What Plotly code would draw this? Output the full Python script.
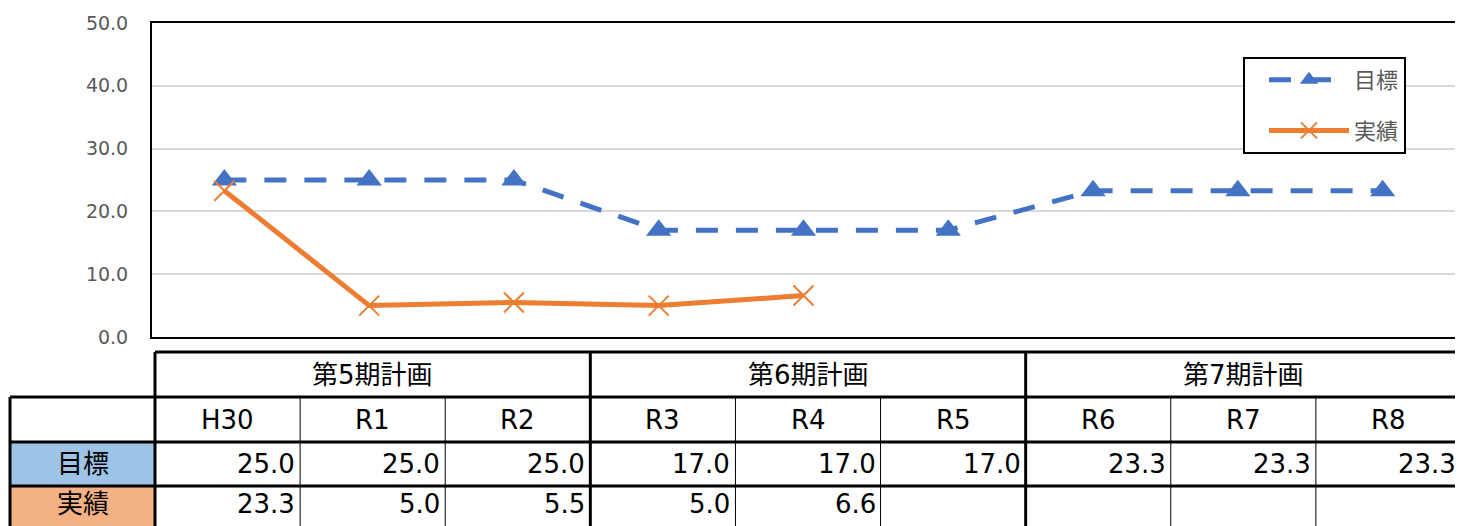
import plotly.graph_objects as go

# ---------------- data ----------------
years = ["H30", "R1", "R2", "R3", "R4", "R5", "R6", "R7", "R8"]
periods = ["第5期計画", "第6期計画", "第7期計画"]
period_span = [3, 3, 3]
target = [25.0, 25.0, 25.0, 17.0, 17.0, 17.0, 23.3, 23.3, 23.3]
actual = [23.3, 5.0, 5.5, 5.0, 6.6, None, None, None, None]
series_names = ["目標", "実績"]
y_ticks = [0, 10, 20, 30, 40, 50]

# ---------------- layout constants ----------------
PAGE_W, PAGE_H = 1463, 526
OFF = 8                       # default page (body) margin
FW, FH = PAGE_W - OFF, PAGE_H - OFF
FONT = "DejaVu Sans, Noto Sans CJK JP, sans-serif"
BLUE = "#4472C4"
ORANGE = "#ED7D31"


def px(x):
    """page pixel x -> figure paper fraction"""
    return (x - OFF) / FW


def py(y):
    """page pixel y -> figure paper fraction"""
    return 1 - (y - OFF) / FH


fig = go.Figure()

fig.add_trace(go.Scatter(
    x=years, y=target, name=series_names[0], mode="lines+markers",
    line=dict(color=BLUE, width=5, dash="22px,18px"),
    marker=dict(symbol="triangle-up", size=22, color=BLUE),
    legendgroup="a",
))
fig.add_trace(go.Scatter(
    x=years, y=actual, name=series_names[1], mode="lines+markers",
    line=dict(color=ORANGE, width=5),
    marker=dict(symbol="x-thin", size=20, color=ORANGE,
                line=dict(color=ORANGE, width=2)),
    legendgroup="b",
))

# ---------------- table (drawn on a hidden page-pixel axis pair) ----------------
t_left = 10
t_data_left = 155
t_right = 1461
col_w = (t_right - t_data_left) / len(years)
row_tops = [352, 397, 442, 486, 530]

shapes = []
annotations = []
THICK = 3
THIN = 1
REF = dict(xref="x2", yref="y2")

label_fills = ["#9DC3E6", "#F4B183"]
for i, c in enumerate(label_fills):
    shapes.append(dict(type="rect", **REF,
                       x0=t_left, x1=t_data_left,
                       y0=row_tops[2 + i], y1=row_tops[3 + i],
                       fillcolor=c, line=dict(width=0)))

shapes.append(dict(type="line", **REF, x0=t_data_left, x1=t_right,
                   y0=row_tops[0], y1=row_tops[0],
                   line=dict(color="black", width=THICK)))
for r in row_tops[1:4]:
    shapes.append(dict(type="line", **REF, x0=t_left, x1=t_right, y0=r, y1=r,
                       line=dict(color="black", width=THICK)))

shapes.append(dict(type="line", **REF, x0=t_left, x1=t_left,
                   y0=row_tops[1], y1=row_tops[4],
                   line=dict(color="black", width=THICK)))
edge = 0
bounds = [0]
for s in period_span:
    edge += s
    bounds.append(edge)
for k in range(len(years) + 1):
    xk = t_data_left + k * col_w
    if k in bounds:
        shapes.append(dict(type="line", **REF, x0=xk, x1=xk,
                           y0=row_tops[0], y1=row_tops[4],
                           line=dict(color="black", width=THICK)))
    else:
        shapes.append(dict(type="line", **REF, x0=xk, x1=xk,
                           y0=row_tops[1], y1=row_tops[4],
                           line=dict(color="black", width=THIN)))

TF = dict(family=FONT, size=26, color="black")


def row_mid(i):
    return (row_tops[i] + row_tops[i + 1]) / 2


for p, name in enumerate(periods):
    x0 = t_data_left + bounds[p] * col_w
    x1 = t_data_left + bounds[p + 1] * col_w
    annotations.append(dict(x=(x0 + x1) / 2, y=row_mid(0), **REF,
                            text=name, showarrow=False, font=TF,
                            xanchor="center", yanchor="middle"))
for k, yr in enumerate(years):
    xc = t_data_left + (k + 0.5) * col_w
    xr = t_data_left + (k + 1) * col_w - 3
    annotations.append(dict(x=xc, y=row_mid(1), **REF,
                            text=yr, showarrow=False, font=TF,
                            xanchor="center", yanchor="middle"))
    for i, series in enumerate([target, actual]):
        v = series[k]
        if v is None:
            continue
        annotations.append(dict(x=xr, y=row_mid(2 + i) - (4 if i == 1 else 0), **REF,
                                text=f"{v:.1f}", showarrow=False, font=TF,
                                xanchor="right", yanchor="middle"))
for i, name in enumerate(series_names):
    annotations.append(dict(x=(t_left + t_data_left) / 2,
                            y=row_mid(2 + i) - (4 if i == 1 else 0), **REF,
                            text=name, showarrow=False,
                            font=TF, xanchor="center", yanchor="middle"))

fig.update_layout(
    width=FW, height=FH,
    autosize=False,
    margin=dict(l=0, r=0, t=0, b=0, pad=0),
    paper_bgcolor="white", plot_bgcolor="rgba(0,0,0,0)",
    font=dict(family=FONT, color="#595959"),
    xaxis=dict(domain=[px(152), px(1455)], range=[-0.5, len(years) - 0.5],
               type="category", showticklabels=False, showgrid=False,
               showline=True, mirror=True, linecolor="black", linewidth=2,
               zeroline=False, automargin=False),
    yaxis=dict(domain=[py(337), py(23)], range=[0, 50], tickvals=y_ticks,
               tickformat=".1f", showgrid=True, gridcolor="#D9D9D9", gridwidth=1.5,
               showline=True, mirror=True, linecolor="black", linewidth=2,
               zeroline=False, ticks="", ticklabelstandoff=18, automargin=False,
               tickfont=dict(family=FONT, size=19, color="#595959")),
    xaxis2=dict(domain=[0, 1], range=[OFF, OFF + FW], anchor="y2", visible=False,
                automargin=False, showgrid=False, zeroline=False),
    yaxis2=dict(domain=[0, 1], range=[OFF + FH, OFF], anchor="x2", visible=False,
                automargin=False, showgrid=False, zeroline=False),
    legend=dict(x=px(1243), y=py(57), xanchor="left", yanchor="top",
                bgcolor="white", bordercolor="black", borderwidth=2,
                font=dict(family=FONT, size=22, color="#595959"),
                traceorder="grouped", tracegroupgap=19, itemwidth=80,
                indentation=19),
    showlegend=True,
    shapes=shapes,
    annotations=annotations,
)

fig.write_html("out.html")
